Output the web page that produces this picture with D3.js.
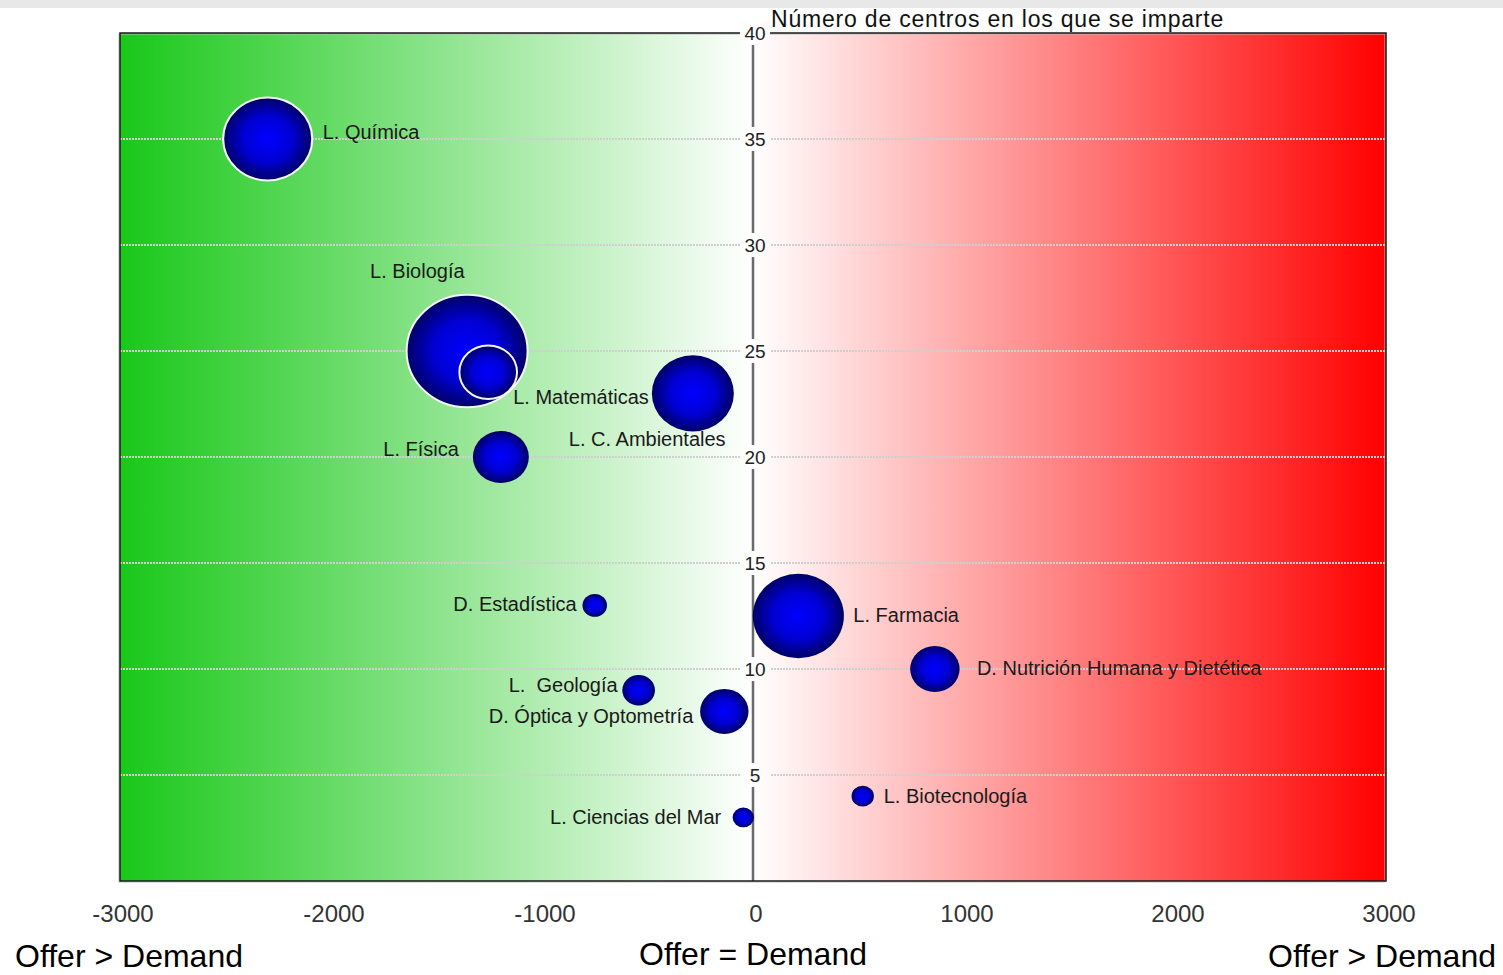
<!DOCTYPE html>
<html><head><meta charset="utf-8">
<script src="https://cdn.jsdelivr.net/npm/d3@7"></script>
<style>body{margin:0;background:#fff}svg{display:block}</style>
</head><body>
<script>
// ---- data ----
const names = ["L. Química","L. Biología","L. Matemáticas","L. C. Ambientales","L. Física",
  "D. Estadística","L. Farmacia","D. Nutrición Humana y Dietética","L.  Geología",
  "D. Óptica y Optometría","L. Biotecnología","L. Ciencias del Mar"];
const balance = [-2300,-1355,-1255,-285,-1195,-750,215,862,-542,-136,520,-46];   // offer - demand
const centres = [35,25,24,23,20,13,12.5,10,9,8,4,3];                              // número de centros
const sizes   = [541,1000,227,459,214,41,566,167,73,160,34,31];                   // bubble size
const outlined = ["L. Química","L. Biología","L. Matemáticas"];
const xTicks = [-3000,-2000,-1000,0,1000,2000,3000];
const yTicks = [5,10,15,20,25,30,35,40];
const sideLabels = ["Offer > Demand","Offer = Demand","Offer > Demand"];
const yTitle = "Número de centros en los que se imparte";

// label placement (layout, px relative to bubble centre)
const labelLayout = {
  "L. Química":[55,0,"start"], "L. Biología":[-97,-73,"start"], "L. Matemáticas":[25,32,"start"],
  "L. C. Ambientales":[-124,53,"start"], "L. Física":[-42,-1,"end"], "D. Estadística":[-18,6,"end"],
  "L. Farmacia":[55,6,"start"], "D. Nutrición Humana y Dietética":[42,6,"start"],
  "L.  Geología":[-21,2,"end"], "D. Óptica y Optometría":[-31,12,"end"],
  "L. Biotecnología":[21,7,"start"], "L. Ciencias del Mar":[-22,7,"end"]
};

const data = names.map((n,i)=>({name:n,x:balance[i],y:centres[i],s:sizes[i]}));

const W=1503,H=975;
const svg=d3.select("body").append("svg").attr("width",W).attr("height",H);
const x=d3.scaleLinear().domain([-3000,3000]).range([120,1386]);
const y=d3.scaleLinear().domain([0,40]).range([881,33]);
const r=d3.scaleSqrt().domain([0,1000]).range([0,60.5]);
const font="'Liberation Sans', Arial, sans-serif";

const defs=svg.append("defs");
const bg=defs.append("linearGradient").attr("id","bg").attr("gradientUnits","userSpaceOnUse")
  .attr("x1",x(-3000)).attr("x2",x(3000)).attr("y1",0).attr("y2",0);
bg.append("stop").attr("offset","0").attr("stop-color","rgb(25,200,25)");
bg.append("stop").attr("offset","0.5").attr("stop-color","#ffffff");
bg.append("stop").attr("offset","1").attr("stop-color","rgb(255,0,0)");
const bub=defs.append("radialGradient").attr("id","bub").attr("cx","50%").attr("cy","50%").attr("r","50%");
bub.append("stop").attr("offset","0").attr("stop-color","#0000ff");
bub.append("stop").attr("offset","0.55").attr("stop-color","#0000d4");
bub.append("stop").attr("offset","1").attr("stop-color","#000066");

// top strip
svg.append("rect").attr("x",0).attr("y",0).attr("width",W).attr("height",8).attr("fill","#e8e8e8");

// plot background
svg.append("rect").attr("x",x(-3000)).attr("y",y(40)).attr("width",x(3000)-x(-3000))
  .attr("height",y(0)-y(40)).attr("fill","url(#bg)");

// grid
svg.append("g").selectAll("line").data(yTicks.filter(v=>v<40)).join("line")
  .attr("x1",x(-3000)).attr("x2",x(3000)).attr("y1",d=>y(d)).attr("y2",d=>y(d))
  .attr("stroke","#cfcfcf").attr("stroke-width",2).attr("stroke-dasharray","2,1");

// vertical axis
svg.append("line").attr("x1",x(0)).attr("x2",x(0)).attr("y1",y(0)).attr("y2",y(40))
  .attr("stroke","#6a6a6a").attr("stroke-width",2.5);

// border (with faint shadow)
svg.append("rect").attr("x",x(-3000)-1).attr("y",y(40)+1).attr("width",x(3000)-x(-3000))
  .attr("height",y(0)-y(40)).attr("fill","none").attr("stroke","#bbb").attr("stroke-width",1);
svg.append("rect").attr("x",x(-3000)).attr("y",y(40)).attr("width",x(3000)-x(-3000))
  .attr("height",y(0)-y(40)).attr("fill","none").attr("stroke","#1a1a1a").attr("stroke-width",1.5);

// y tick labels with gap in axis/grid
svg.append("g").selectAll("rect").data(yTicks).join("rect")
  .attr("x",x(0)-13).attr("y",d=>y(d)-12).attr("width",30).attr("height",24).attr("fill","url(#bg)");
svg.append("g").selectAll("text").data(yTicks).join("text")
  .attr("x",x(0)+2).attr("y",d=>y(d)+7).attr("text-anchor","middle")
  .attr("font-family",font).attr("font-size",19).attr("fill","#222").text(d=>d);

// title
svg.append("text").attr("x",x(0)+18).attr("y",27).attr("font-family",font).attr("font-size",23)
  .attr("letter-spacing",0.8).attr("fill","#111").text(yTitle);

// bubbles
svg.append("g").selectAll("ellipse").data(data).join("ellipse")
  .attr("cx",d=>x(d.x)).attr("cy",d=>y(d.y))
  .attr("rx",d=>r(d.s)).attr("ry",d=>r(d.s)*0.93)
  .attr("fill","url(#bub)")
  .attr("stroke",d=>outlined.includes(d.name)?"#f4f4f4":"none")
  .attr("stroke-width",2);

// labels
svg.append("g").selectAll("text").data(data).join("text")
  .attr("x",d=>x(d.x)+labelLayout[d.name][0]).attr("y",d=>y(d.y)+labelLayout[d.name][1])
  .attr("text-anchor",d=>labelLayout[d.name][2])
  .attr("font-family",font).attr("font-size",20).attr("fill","#1a1a1a")
  .style("white-space","pre").text(d=>d.name);

// x tick labels
svg.append("g").selectAll("text").data(xTicks).join("text")
  .attr("x",d=>x(d)+3).attr("y",922).attr("text-anchor","middle")
  .attr("font-family",font).attr("font-size",24).attr("fill","#333").text(d=>d);

// side labels
const sidePos=[[15,"start"],[x(0),"middle"],[1496,"end"]];
svg.append("g").selectAll("text").data(sideLabels).join("text")
  .attr("x",(d,i)=>sidePos[i][0]).attr("y",(d,i)=>i===1?965:967)
  .attr("text-anchor",(d,i)=>sidePos[i][1])
  .attr("font-family",font).attr("font-size",32).attr("fill","#000").text(d=>d);
</script>
</body></html>
